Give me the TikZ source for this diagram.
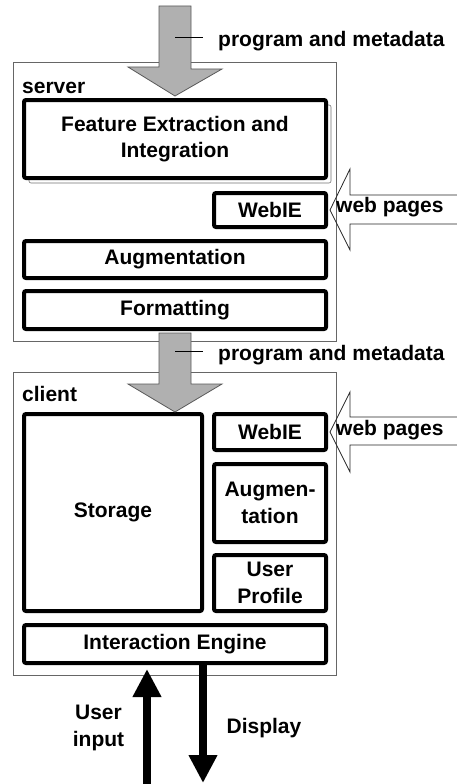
\documentclass[tikz,border=0pt]{standalone}
\usepackage{fontspec}
\setmainfont{Liberation Sans}
\usetikzlibrary{arrows.meta,shadows}

\begin{document}
\begin{tikzpicture}[x=1pt,y=-1pt,
  every node/.style={font=\bfseries\fontsize{21}{26.5}\selectfont},
  part/.style={draw=black!60, line width=0.8pt, minimum width=323pt},
  blk/.style={draw, line width=4pt, rounded corners=2pt, fill=white, align=center, inner sep=0pt},
  wide/.style={blk, minimum width=302pt},
  narrow/.style={blk, minimum width=112pt},
  lbl/.style={inner sep=0pt},
  garrow/.style={draw=black!65, line width=0.8pt, fill=black!31},
  warrow/.style={draw=black!85, line width=0.8pt},
  tick/.style={line width=0.8pt},
  bigarrow/.style={line width=8pt, -{Triangle[width=27pt,length=28pt]}}]
\useasboundingbox (0,0) rectangle (456,784);

% server and client
\node[part, minimum height=279pt] (server) at (174.5,201.5) {};
\node[part, minimum height=303pt] (client) at (174.5,523.5) {};
\node[lbl, anchor=base west] (srvlbl) at (22,93) {server};
\node[lbl, anchor=base west] (clilbl) at (22,401) {client};

\node[wide, minimum height=78pt,
  copy shadow={shadow xshift=5pt, shadow yshift=-5pt, draw=black!55, line width=0.6pt, fill=white}]
  (feat) at (175,139) {Feature Extraction and\\Integration};
\node[narrow, minimum height=34pt] (webS) at (270,210) {WebIE};
\node[wide, minimum height=37pt] (augS) at (175,259.5) {Augmentation};
\node[wide, minimum height=38pt] (fmt) at (175,310) {Formatting};

\node[blk, minimum width=178pt, minimum height=197pt] (store) at (113,512.5) {Storage};
\node[narrow, minimum height=36pt] (webC) at (270,432) {WebIE};
\node[narrow, minimum height=78pt] (augC) at (270,503) {Augmen-\\tation};
\node[narrow, minimum height=56pt] (prof) at (270,583) {User\\Profile};
\node[wide, minimum height=38pt] (inter) at (175,644) {Interaction Engine};

% program and metadata
\coordinate (src) at (175,6);
\draw[garrow] (src) ++(-16,0) -- ++(32,0) -- ++(0,63) -- ++(31,0)
  -- ([yshift=2pt]feat.north) -- ++(-47,-29) -- ++(31,0) -- cycle;
\draw[garrow] ([yshift=-2pt]fmt.south) ++(-16,0) -- ++(32,0) -- ++(0,51) -- ++(31,0)
  -- ++(-47,28) -- ++(-47,-28) -- ++(31,0) -- cycle;
\node[lbl, anchor=base west] (meta1) at (218,47) {program and metadata};
\node[lbl, anchor=base west] (meta2) at (218,360) {program and metadata};
\draw[tick] (175,37) -- ([xshift=-15pt]meta1.west |- 0,37);
\draw[tick] (175,351) -- ([xshift=-15pt]meta2.west |- 0,351);

% web pages
\draw[warrow] ([xshift=2pt]webS.east) -- ++(20,-41) -- ++(0,26) -- ++(115,0);
\draw[warrow] ([xshift=2pt]webS.east) -- ++(20,40) -- ++(0,-26) -- ++(115,0);
\draw[warrow] ([xshift=2pt]webC.east) -- ++(20,-40) -- ++(0,25) -- ++(115,0);
\draw[warrow] ([xshift=2pt]webC.east) -- ++(20,40) -- ++(0,-27) -- ++(115,0);
\node[lbl, anchor=base west] (pagesS) at (336,212) {web pages};
\node[lbl, anchor=base west] (pagesC) at (336,435) {web pages};

% user side
\coordinate (kbd) at (147,790);
\coordinate (scr) at (203,783);
\draw[bigarrow, shorten >=4pt] (kbd) -- (kbd |- inter.south);
\draw[bigarrow] (scr |- inter.south) -- (scr);
\node[lbl, align=center] (uin) at (98.5,728) {User\\input};
\node[lbl, anchor=base] (disp) at (264,733) {Display};
\end{tikzpicture}
\end{document}
